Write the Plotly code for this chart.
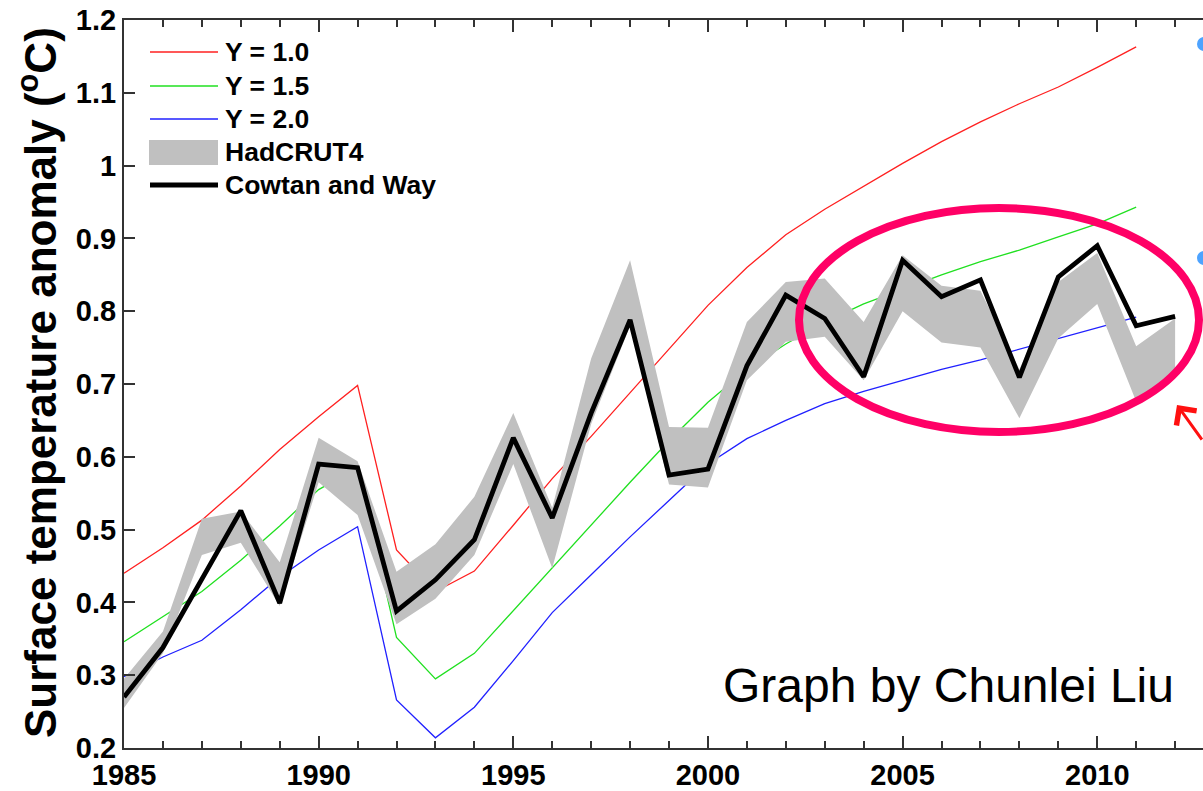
import plotly.graph_objects as go

# ---------------- data ----------------
years = list(range(1985, 2013))          # observations 1985-2012
model_years = list(range(1985, 2012))    # model curves 1985-2011

y_10 = [0.44, 0.475, 0.513, 0.56, 0.61, 0.655, 0.698, 0.472, 0.415, 0.443,
        0.506, 0.57, 0.628, 0.688, 0.748, 0.808, 0.86, 0.905, 0.94, 0.972,
        1.003, 1.033, 1.06, 1.085, 1.108, 1.135, 1.163]
y_15 = [0.346, 0.38, 0.415, 0.458, 0.505, 0.555, 0.585, 0.352, 0.295, 0.33,
        0.389, 0.447, 0.506, 0.565, 0.622, 0.675, 0.72, 0.755, 0.785, 0.81,
        0.83, 0.85, 0.868, 0.884, 0.902, 0.92, 0.943]
y_20 = [0.298, 0.325, 0.348, 0.39, 0.435, 0.472, 0.504, 0.266, 0.214, 0.256,
        0.32, 0.386, 0.438, 0.49, 0.54, 0.59, 0.625, 0.65, 0.673, 0.69,
        0.705, 0.72, 0.733, 0.748, 0.762, 0.777, 0.792]
cowtan_way = [0.27, 0.338, 0.432, 0.526, 0.399, 0.59, 0.585, 0.388, 0.431, 0.486,
              0.626, 0.516, 0.66, 0.788, 0.575, 0.583, 0.725, 0.822, 0.79, 0.71,
              0.87, 0.82, 0.843, 0.709, 0.847, 0.89, 0.78, 0.793]
hadcrut_upper = [0.295, 0.36, 0.515, 0.525, 0.455, 0.626, 0.594, 0.442, 0.48, 0.545,
                 0.66, 0.53, 0.735, 0.87, 0.641, 0.64, 0.785, 0.84, 0.845, 0.785,
                 0.877, 0.835, 0.828, 0.72, 0.84, 0.88, 0.752, 0.79]
hadcrut_lower = [0.255, 0.33, 0.465, 0.482, 0.395, 0.565, 0.52, 0.37, 0.405, 0.465,
                 0.59, 0.447, 0.645, 0.78, 0.562, 0.558, 0.705, 0.758, 0.765, 0.705,
                 0.80, 0.757, 0.75, 0.653, 0.763, 0.81, 0.676, 0.715]

x_tick_vals = [1985, 1990, 1995, 2000, 2005, 2010]
x_tick_text = ["1985", "1990", "1995", "2000", "2005", "2010"]
y_tick_vals = [0.2, 0.3, 0.4, 0.5, 0.6, 0.7, 0.8, 0.9, 1.0, 1.1, 1.2]
y_tick_text = ["0.2", "0.3", "0.4", "0.5", "0.6", "0.7", "0.8", "0.9", "1", "1.1", "1.2"]

legend_labels = ["Y = 1.0", "Y = 1.5", "Y = 2.0", "HadCRUT4", "Cowtan and Way"]

# ---------------- layout geometry (page pixels) ----------------
W, H = 1203, 791
L, T, BOT = 124, 20, 748
B = H - BOT
PW = W - L
PH = BOT - T
YEAR_PX = 38.93
X_RANGE = [1985, 1985 + PW / YEAR_PX]

def px(xp):
    return (xp - L) / PW

def py(yp):
    return (BOT - yp) / PH

FONT = "Liberation Sans, Arial, sans-serif"

fig = go.Figure()

for vals, col in [(y_10, "#ff2020"), (y_15, "#20e020"), (y_20, "#2020ff")]:
    fig.add_trace(go.Scatter(x=model_years, y=vals, mode="lines",
                             line=dict(color=col, width=1.3), showlegend=False,
                             hoverinfo="skip"))

fig.add_trace(go.Scatter(x=years, y=hadcrut_lower, mode="lines",
                         line=dict(width=0, color="#c0c0c0"), showlegend=False,
                         hoverinfo="skip"))
fig.add_trace(go.Scatter(x=years, y=hadcrut_upper, mode="lines", fill="tonexty",
                         fillcolor="#c0c0c0", line=dict(width=0, color="#c0c0c0"),
                         showlegend=False, hoverinfo="skip"))
fig.add_trace(go.Scatter(x=years, y=cowtan_way, mode="lines",
                         line=dict(color="#000000", width=4.8), showlegend=False))

axis_common = dict(
    showline=True, linecolor="#333333", linewidth=2,
    ticks="inside", tickcolor="#333333", tickwidth=1.5,
    showgrid=False, zeroline=False, ticklabeloverflow="allow",
    tickfont=dict(family=FONT, size=29, color="#000000", weight="bold"),
)

fig.update_xaxes(range=X_RANGE, tickvals=x_tick_vals, ticktext=x_tick_text,
                 ticklen=12, mirror="ticks",
                 minor=dict(dtick=1, tick0=1985, ticks="inside", ticklen=7,
                            tickcolor="#333333", tickwidth=1.5, showgrid=False),
                 **axis_common)
fig.update_yaxes(range=[0.2, 1.2], tickvals=y_tick_vals, ticktext=y_tick_text,
                 ticklen=11, mirror=False, **axis_common)

shapes = []
annotations = []

# manual legend
leg_rows = [52, 86, 119, 152, 185]
leg_cols = ["#ff2020", "#20e020", "#2020ff"]
for i in range(3):
    shapes.append(dict(type="line", xref="paper", yref="paper",
                       x0=px(150), x1=px(218), y0=py(leg_rows[i]), y1=py(leg_rows[i]),
                       line=dict(color=leg_cols[i], width=1.3)))
shapes.append(dict(type="rect", xref="paper", yref="paper",
                   x0=px(149), x1=px(218), y0=py(165), y1=py(140),
                   fillcolor="#c0c0c0", line=dict(width=0)))
shapes.append(dict(type="line", xref="paper", yref="paper",
                   x0=px(150), x1=px(218), y0=py(185), y1=py(185),
                   line=dict(color="#000000", width=5)))
for lab, r in zip(legend_labels, leg_rows):
    annotations.append(dict(text=lab, xref="paper", yref="paper", x=px(223), y=py(r),
                            xanchor="left", yanchor="middle", showarrow=False,
                            font=dict(family=FONT, size=26.5, color="#000000", weight="bold")))

# y axis title
annotations.append(dict(text="Surface temperature anomaly (<sup>o</sup>C)",
                        xref="paper", yref="paper", x=px(37), y=py(383),
                        xanchor="center", yanchor="middle", textangle=-90,
                        showarrow=False,
                        font=dict(family=FONT, size=44, color="#000000", weight="bold")))

# credit text
annotations.append(dict(text="Graph by Chunlei Liu", xref="paper", yref="paper",
                        x=px(721), y=py(685), xanchor="left", yanchor="middle",
                        showarrow=False,
                        font=dict(family=FONT, size=48, color="#000000")))

# pink ellipse highlight
shapes.append(dict(type="circle", xref="paper", yref="paper",
                   x0=px(799), x1=px(1199), y0=py(432), y1=py(208),
                   line=dict(color="#ff0066", width=8)))

# partial blue bullets at right edge
for cy in [44, 258]:
    shapes.append(dict(type="circle", xref="paper", yref="paper",
                       x0=px(1197), x1=px(1211), y0=py(cy + 7), y1=py(cy - 7),
                       fillcolor="#4da3ff", line=dict(width=0)))

# red arrow at right edge
annotations.append(dict(text="", xref="paper", yref="paper", x=px(1177), y=py(405),
                        ax=45, ay=36, showarrow=True, arrowhead=4, arrowsize=1.6,
                        arrowwidth=3, arrowcolor="#ff1010"))

fig.update_layout(
    width=W, height=H,
    margin=dict(l=L, r=0, t=T, b=B, pad=0),
    plot_bgcolor="#ffffff", paper_bgcolor="#ffffff",
    showlegend=False,
    shapes=shapes, annotations=annotations,
)

# remove the default page margin so the figure fills the window exactly
fig.write_html(
    "out.html",
    config={"displayModeBar": False},
    post_script="document.body.style.margin='0';"
                "document.body.style.overflow='hidden';"
                "document.documentElement.style.overflow='hidden';",
)
